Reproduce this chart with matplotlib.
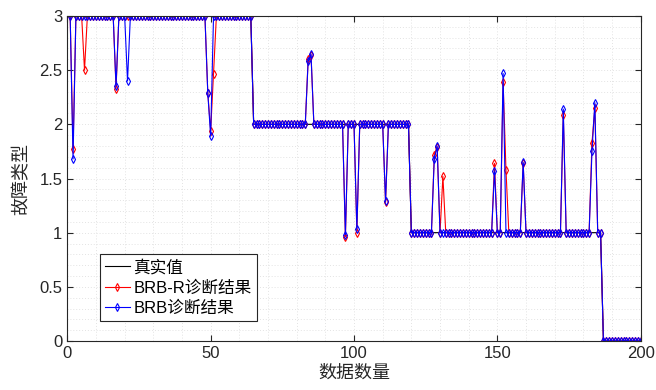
import numpy as np
import matplotlib
matplotlib.use('Agg')
import matplotlib.pyplot as plt
from matplotlib.ticker import MultipleLocator, FormatStrFormatter

plt.rcParams['font.family'] = ['Liberation Sans', 'Noto Sans CJK SC', 'DejaVu Sans']

# sample index 1..200
samples = np.arange(1, 201)

# true fault class, as runs of (value, count)
true_runs = [(3, 64), (2, 55), (1, 67), (0, 14)]

# BRB-R diagnosis: samples that differ from the true class
brbr_idx = [2, 6, 17, 49, 50, 51, 84, 85, 97, 101, 111, 128, 129, 131,
            149, 152, 153, 159, 173, 183, 184]
brbr_val = [1.77, 2.50, 2.33, 2.29, 1.94, 2.46, 2.60, 2.64, 0.96, 1.00, 1.28,
            1.72, 1.79, 1.52, 1.64, 2.39, 1.58, 1.64, 2.09, 1.83, 2.15]

# BRB diagnosis: samples that differ from the true class
brb_idx = [2, 17, 21, 49, 50, 84, 85, 97, 101, 111, 128, 129,
           149, 152, 159, 173, 183, 184]
brb_val = [1.68, 2.35, 2.40, 2.29, 1.89, 2.58, 2.65, 0.98, 1.03, 1.29,
           1.68, 1.80, 1.57, 2.47, 1.65, 2.14, 1.75, 2.20]

true_vals = np.concatenate([[v] * n for v, n in true_runs]).astype(float)
brbr = true_vals.copy()
brbr[np.array(brbr_idx) - 1] = brbr_val
brb = true_vals.copy()
brb[np.array(brb_idx) - 1] = brb_val

fig = plt.figure(figsize=(6.56, 3.90), dpi=100)
ax = fig.add_axes([0.1026, 0.1256, 0.8741, 0.8334])

ax.plot(samples, true_vals, color='black', lw=0.8, label='真实值')
ax.plot(samples, brbr, color='red', lw=0.8, marker='d', ms=4.2,
        mfc='none', mew=0.8, label='BRB-R诊断结果')
ax.plot(samples, brb, color='blue', lw=0.8, marker='d', ms=4.2,
        mfc='none', mew=0.8, label='BRB诊断结果')

ax.set_xlim(0, 200)
ax.set_ylim(0, 3)
ax.xaxis.set_major_locator(MultipleLocator(50))
ax.yaxis.set_major_locator(MultipleLocator(0.5))
ax.yaxis.set_major_formatter(FormatStrFormatter('%g'))
ax.xaxis.set_minor_locator(MultipleLocator(10))
ax.yaxis.set_minor_locator(MultipleLocator(0.1))
ax.grid(which='both', color='#e3e3e3', ls=(0, (1, 2)), lw=0.7)
ax.set_axisbelow(True)
ax.tick_params(which='major', direction='in', length=4, top=True, right=True,
               labelsize=12, colors='#262626', width=0.8)
ax.tick_params(which='minor', length=0, top=True, right=True)
for s in ax.spines.values():
    s.set_color('#262626')
    s.set_linewidth(0.8)

ax.set_xlabel('数据数量', fontsize=13, family=['Noto Sans CJK SC'], labelpad=2, color='#262626')
ax.set_ylabel('故障类型', fontsize=13, family=['Noto Sans CJK SC'], labelpad=6, color='#262626')

leg = ax.legend(loc='lower left', bbox_to_anchor=(0.057, 0.062), fontsize=12,
                numpoints=1, handlelength=1.5, handletextpad=0.2,
                borderpad=0.3, labelspacing=0.3, fancybox=False,
                framealpha=1, edgecolor='#262626', borderaxespad=0)
leg.get_frame().set_linewidth(0.8)

fig.savefig('out.png', dpi=100)
